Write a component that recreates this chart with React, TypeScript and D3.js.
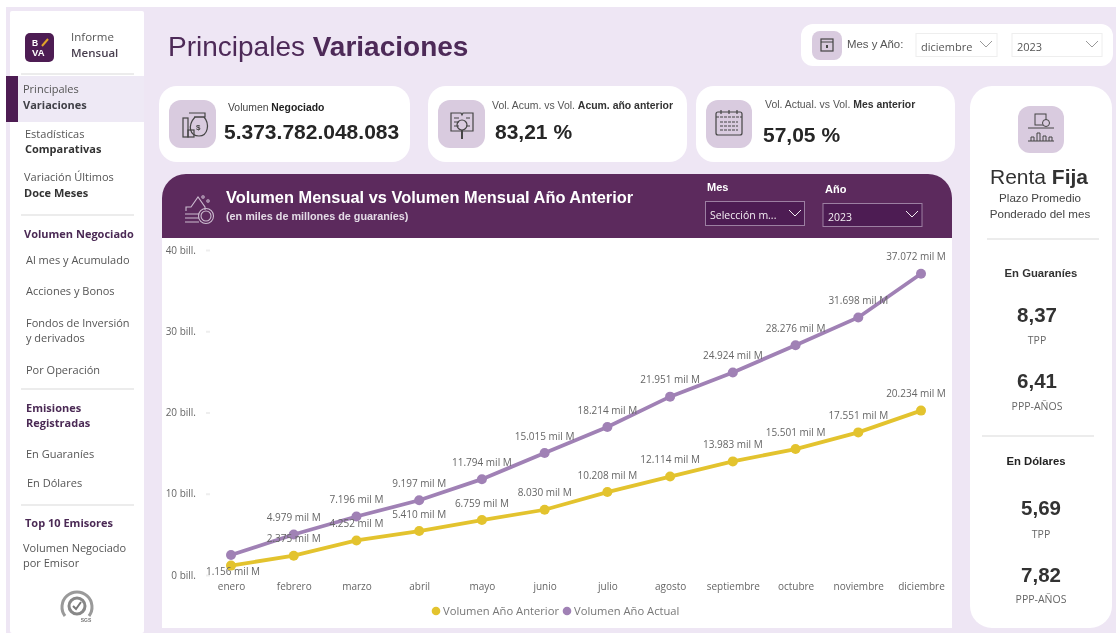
import React, { useEffect, useRef } from "react";
import * as d3 from "d3";

const months = ["enero", "febrero", "marzo", "abril", "mayo", "junio", "julio", "agosto", "septiembre", "octubre", "noviembre", "diciembre"];
const volumenAnterior = [1156, 2375, 4252, 5410, 6759, 8030, 10208, 12114, 13983, 15501, 17551, 20234];
const volumenActual = [2460, 4979, 7196, 9197, 11794, 15015, 18214, 21951, 24924, 28276, 31698, 37072];
const yTicks = [0, 10000, 20000, 30000, 40000];

const YELLOW = "#E3C32F";
const PURPLE = "#A081B5";
const DARK = "#5B2A5D";
const DEEP = "#4E1D52";
const ICON_BG = "#D9CBDF";
const LAV = "#EEE6F4";
const SANS = "'Liberation Sans', Arial, sans-serif";
const OPEN = "'Open Sans', sans-serif";

const esLocale = d3.formatLocale({ decimal: ",", thousands: ".", grouping: [3], currency: ["", ""] });
const fmt = esLocale.format(",d");

const x = d3.scalePoint<string>().domain(months).range([231, 921]);
const y = d3.scaleLinear().domain([0, 40000]).range([575, 250]);

const line = d3.line<number>()
  .x((_, i) => x(months[i]) as number)
  .y((d) => y(d));

function T({ x, y, size = 11, w, fill = "#555", font = OPEN, anchor, children }: any) {
  return (
    <text x={x} y={y} fontSize={size} fontWeight={w} fill={fill} fontFamily={font} textAnchor={anchor}>
      {children}
    </text>
  );
}

function Card({ x, y, width, height, r = 18, fill = "#fff" }: any) {
  return <rect x={x} y={y} width={width} height={height} rx={r} fill={fill} />;
}

function Chevron({ x, y, color = "#888" }: any) {
  return <path d={`M${x - 6},${y - 3} L${x},${y + 3} L${x + 6},${y - 3}`} fill="none" stroke={color} strokeWidth={1} />;
}

function Series({ values, color }: { values: number[]; color: string }) {
  return (
    <g>
      <path d={line(values) as string} fill="none" stroke={color} strokeWidth={3.8} />
      {values.map((v, i) => (
        <circle key={i} cx={x(months[i])} cy={y(v)} r={5} fill={color} />
      ))}
    </g>
  );
}

// the last label is pulled in so it stays inside the plot
const labelX = (i: number) => (x(months[i]) as number) + (i === months.length - 1 ? -5 : i === 0 ? 2 : 0);

export default function App() {
  const yRef = useRef<SVGGElement>(null);
  const xRef = useRef<SVGGElement>(null);

  useEffect(() => {
    const yAxis = d3.axisLeft(y).tickValues(yTicks).tickSize(0).tickPadding(11)
      .tickFormat((d) => `${+d / 1000} bill.`);
    const yg = d3.select(yRef.current).call(yAxis as any);
    yg.select(".domain").remove();
    yg.selectAll(".tick line").attr("x1", -1).attr("x2", 3).attr("stroke", "#eeeeee").attr("stroke-width", 2);
    yg.selectAll("text").attr("fill", "#666").attr("font-size", 10).attr("font-family", OPEN);

    const xAxis = d3.axisBottom(x).tickSize(0).tickPadding(0);
    const xg = d3.select(xRef.current).call(xAxis as any);
    xg.select(".domain").remove();
    xg.selectAll("text").attr("fill", "#666").attr("font-size", 10).attr("font-family", OPEN);
  }, []);

  return (
    <svg width={1116} height={633} style={{ position: "absolute", left: 0, top: 0, background: "#fff" }}>
      <defs>
        <filter id="soft" x="0" y="0" width="100%" height="100%">
          <feGaussianBlur stdDeviation={0.4} />
        </filter>
      </defs>
      <g filter="url(#soft)">
        <rect x={0} y={0} width={1116} height={633} fill="#fff" />
        <rect x={6} y={7} width={1110} height={626} fill={LAV} />

        {/* sidebar */}
        <rect x={10} y={11} width={134} height={622} rx={2} fill="#fff" />
        <rect x={6} y={76} width={138} height={46} fill="#EEE9F5" />
        <rect x={6} y={76} width={12} height={46} fill={DEEP} />
        <rect x={25} y={33} width={29} height={29} rx={5} fill={DEEP} />
        <T x={32} y={46} size={8.5} w={700} fill="#fff" font={SANS}>B</T>
        <path d="M42,46 L48,39" stroke="#E0A32B" strokeWidth={2} />
        <T x={32} y={56} size={9.5} w={700} fill="#fff" font={SANS}>VA</T>
        <T x={71} y={41} size={11.5}>Informe</T>
        <T x={71} y={57} size={11.5} w={600} fill="#4a4050">Mensual</T>
        {[74, 215, 389, 505].map((ly) => (
          <line key={ly} x1={21} x2={134} y1={ly} y2={ly} stroke="#e6e6e6" strokeWidth={1.5} />
        ))}
        <T x={23} y={93}>Principales</T>
        <T x={23} y={109} w={700} fill="#3f3f46">Variaciones</T>
        <T x={25} y={138}>Estadísticas</T>
        <T x={25} y={153} w={700} fill="#333">Comparativas</T>
        <T x={24} y={181}>Variación Últimos</T>
        <T x={24} y={197} w={700} fill="#333">Doce Meses</T>
        <T x={24} y={238} w={700} fill="#4b2a55">Volumen Negociado</T>
        <T x={26} y={264}>Al mes y Acumulado</T>
        <T x={26} y={295}>Acciones y Bonos</T>
        <T x={26} y={327}>Fondos de Inversión</T>
        <T x={26} y={342}>y derivados</T>
        <T x={26} y={374}>Por Operación</T>
        <T x={26} y={412} w={700} fill="#4b2a55">Emisiones</T>
        <T x={26} y={427} w={700} fill="#4b2a55">Registradas</T>
        <T x={26} y={458}>En Guaraníes</T>
        <T x={27} y={487}>En Dólares</T>
        <T x={25} y={527} w={700} fill="#4b2a55">Top 10 Emisores</T>
        <T x={23} y={552}>Volumen Negociado</T>
        <T x={23} y={567}>por Emisor</T>
        <g>
          <path d="M65,616 A15,15 0 1 1 89,616" fill="none" stroke="#9a9a9a" strokeWidth={3} />
          <circle cx={77} cy={606} r={8} fill="none" stroke="#888" strokeWidth={3} />
          <path d="M73,606 L76,609 L81,602" fill="none" stroke="#777" strokeWidth={2} />
          <T x={86} y={622} size={5} fill="#777" font={SANS} w={700} anchor="middle">SGS</T>
        </g>

        {/* title and period filter */}
        <text x={168} y={56} fontSize={28} fontFamily={SANS} fill="#4E2A58">
          Principales <tspan fontWeight={700}>Variaciones</tspan>
        </text>
        <Card x={801} y={24} width={312} height={42} r={12} />
        <rect x={812} y={31} width={30} height={29} rx={8} fill={ICON_BG} />
        <rect x={821} y={39} width={12} height={12} fill="none" stroke="#444" strokeWidth={1.2} />
        <line x1={821} x2={833} y1={42} y2={42} stroke="#444" />
        <rect x={826} y={45} width={2} height={3} fill="#444" />
        <T x={847} y={48} size={11.4} font={SANS} fill="#555">Mes y Año:</T>
        <rect x={916} y={33.5} width={81} height={23} fill="#fff" stroke="#eeeeee" />
        <T x={921} y={50.5} size={11} fill="#555">diciembre</T>
        <Chevron x={986} y={44} color="#999" />
        <rect x={1012} y={33.5} width={90} height={23} fill="#fff" stroke="#eeeeee" />
        <T x={1017} y={50.5} size={11} fill="#555">2023</T>
        <Chevron x={1092} y={44} color="#999" />

        {/* kpi cards */}
        <Card x={159} y={86} width={251} height={76} />
        <rect x={169} y={100} width={47} height={48} rx={12} fill={ICON_BG} />
        <g fill="none" stroke="#444" strokeWidth={1.2}>
          <path d="M195,117 C187,126 190,136 199,136 C208,136 210,124 204,117 Z" />
          <rect x={183} y={118} width={5} height={19} />
          <rect x={188} y={130} width={6} height={7} />
          <path d="M189,113 H205 V117 H194" />
        </g>
        <T x={196} y={130} size={8} w={700} font={SANS} fill="#444">$</T>
        <T x={228} y={111} size={10.4} font={SANS} fill="#444">Volumen <tspan fontWeight={700} fill="#222">Negociado</tspan></T>
        <T x={224} y={139} size={21} w={700} font={SANS} fill="#262626">5.373.782.048.083</T>

        <Card x={428} y={86} width={259} height={76} />
        <rect x={438} y={100} width={47} height={48} rx={12} fill={ICON_BG} />
        <g fill="none" stroke="#444" strokeWidth={1.2}>
          <path d="M451,113 H461 L462,115 L463,113 H473 V131 H451 Z" />
          <path d="M454,118 H459 M454,122 H459 M454,126 H459 M466,118 H470 M466,126 H470" />
          <circle cx={462} cy={125} r={5} />
          <path d="M462,130 V139" strokeWidth={2} />
        </g>
        <T x={492} y={109} size={10.45} font={SANS} fill="#555">Vol. Acum. vs Vol. <tspan fontWeight={700} fill="#333">Acum. año anterior</tspan></T>
        <T x={495} y={139} size={21} w={700} font={SANS} fill="#262626">83,21 %</T>

        <Card x={696} y={86} width={259} height={76} />
        <rect x={706} y={100} width={46} height={48} rx={12} fill={ICON_BG} />
        <g fill="none" stroke="#444" strokeWidth={1.2}>
          <rect x={716} y={112} width={26} height={23} rx={2} />
          <path d="M716,117 H742 M720,122 H738 M720,126 H738 M720,130 H738" strokeDasharray="3 1" />
          <path d="M721,110 V114 M729,110 V114 M737,110 V114" />
        </g>
        <T x={765} y={108} size={10.45} font={SANS} fill="#555">Vol. Actual. vs Vol. <tspan fontWeight={700} fill="#333">Mes anterior</tspan></T>
        <T x={763} y={142} size={21} w={700} font={SANS} fill="#262626">57,05 %</T>

        {/* renta fija panel */}
        <Card x={970} y={86} width={142} height={542} r={22} />
        <rect x={1018} y={106} width={46} height={47} rx={12} fill={ICON_BG} />
        <g fill="none" stroke="#444" strokeWidth={1}>
          <rect x={1035} y={114} width={11} height={11} />
          <circle cx={1046} cy={123} r={3.5} fill={ICON_BG} />
          <path d="M1028,128 H1054" />
          <path d="M1028,141 H1054 M1031,141 V137 H1034 V141 M1037,141 V133 H1040 V141 M1043,141 V136 H1046 V141 M1049,141 V137 H1052 V141" />
        </g>
        <T x={1039} y={184} size={21} font={SANS} fill="#333" anchor="middle">Renta <tspan fontWeight={700}>Fija</tspan></T>
        <T x={1040} y={202} size={11.6} font={SANS} fill="#444" anchor="middle">Plazo Promedio</T>
        <T x={1040} y={218} size={11.6} font={SANS} fill="#444" anchor="middle">Ponderado del mes</T>
        <line x1={987} x2={1099} y1={239} y2={239} stroke="#e6e6e6" strokeWidth={1.5} />
        <T x={1041} y={277} size={11.3} w={700} font={SANS} fill="#333" anchor="middle">En Guaraníes</T>
        <T x={1037} y={322} size={20.5} w={700} font={SANS} fill="#333" anchor="middle">8,37</T>
        <T x={1037} y={344} size={10.5} anchor="middle" fill="#666">TPP</T>
        <T x={1037} y={388} size={20.5} w={700} font={SANS} fill="#333" anchor="middle">6,41</T>
        <T x={1037} y={410} size={10.5} anchor="middle" fill="#666">PPP-AÑOS</T>
        <line x1={982} x2={1094} y1={436} y2={436} stroke="#e6e6e6" strokeWidth={1.5} />
        <T x={1036} y={465} size={11.3} w={700} font={SANS} fill="#222" anchor="middle">En Dólares</T>
        <T x={1041} y={515} size={20.5} w={700} font={SANS} fill="#333" anchor="middle">5,69</T>
        <T x={1041} y={538} size={10.5} anchor="middle" fill="#666">TPP</T>
        <T x={1041} y={582} size={20.5} w={700} font={SANS} fill="#333" anchor="middle">7,82</T>
        <T x={1041} y={603} size={10.5} anchor="middle" fill="#666">PPP-AÑOS</T>

        {/* chart panel */}
        <rect x={162} y={200} width={790} height={428} fill="#fff" />
        <path d="M162,238 V198 A24,24 0 0 1 186,174 H928 A24,24 0 0 1 952,198 V238 Z" fill={DARK} />
        <g fill="none" stroke="#cdbcd0" strokeWidth={1.1}>
          <path d="M186,211 V207 H191 L198,197 L205,207 V210" />
          <path d="M185,214 H199 M185,218 H199 M185,222 H199" />
          <circle cx={206} cy={216} r={7.5} />
          <circle cx={206} cy={216} r={5} />
          <circle cx={203} cy={197} r={1.2} />
          <circle cx={208} cy={201} r={1.2} />
        </g>
        <T x={226} y={203} size={16.4} w={700} font={SANS} fill="#fff">Volumen Mensual vs Volumen Mensual Año Anterior</T>
        <T x={226} y={220} size={10.8} w={700} font={SANS} fill="#e4dbe6">(en miles de millones de guaraníes)</T>
        <T x={707} y={191} size={11} w={700} font={SANS} fill="#fff">Mes</T>
        <T x={825} y={193} size={11} w={700} font={SANS} fill="#fff">Año</T>
        <rect x={705.5} y={201.5} width={99} height={24} fill={DEEP} stroke="#9c7fa2" />
        <T x={710} y={219} size={10.5} fill="#f3eef4">Selección m...</T>
        <Chevron x={795} y={213} color="#f3eef4" />
        <rect x={823} y={203.5} width={99} height={23} fill={DEEP} stroke="#9c7fa2" />
        <T x={828} y={221} size={10.5} fill="#f3eef4">2023</T>
        <Chevron x={912} y={214} color="#f3eef4" />

        {/* axes */}
        <g ref={yRef} transform="translate(207,0)" />
        <g ref={xRef} transform="translate(0,583)" />

        <Series values={volumenAnterior} color={YELLOW} />
        <Series values={volumenActual} color={PURPLE} />

        {volumenAnterior.map((v, i) => (
          <T key={i} x={labelX(i)} y={y(v) + (i === 0 ? 9.5 : -13.5)} size={10} fill="#666" anchor="middle">
            {fmt(v)} mil M
          </T>
        ))}
        {volumenActual.map((v, i) =>
          i === 0 ? null : (
            <T key={i} x={labelX(i)} y={y(v) - 13.5} size={10} fill="#666" anchor="middle">
              {fmt(v)} mil M
            </T>
          )
        )}

        {/* legend */}
        <circle cx={436} cy={611} r={4.3} fill={YELLOW} />
        <T x={443} y={615} size={11.2} fill="#777">Volumen Año Anterior</T>
        <circle cx={567} cy={611} r={4.3} fill={PURPLE} />
        <T x={574} y={615} size={11.2} fill="#777">Volumen Año Actual</T>
      </g>
    </svg>
  );
}
